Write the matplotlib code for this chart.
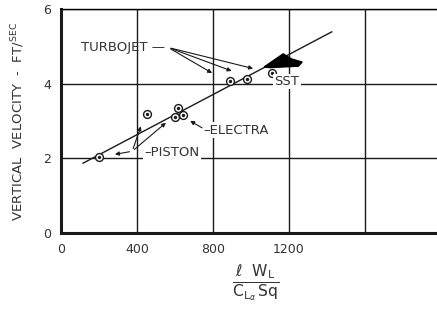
import matplotlib.pyplot as plt

plt.rcParams['mathtext.fontset'] = 'dejavusans'

# trend line and data points
fit_x = [116, 1426]
fit_y = [1.87, 5.39]
piston_x = [200, 453]
piston_y = [2.03, 3.20]
electra_x = [600, 616, 642]
electra_y = [3.12, 3.36, 3.15]
turbo_x = [889, 979]
turbo_y = [4.08, 4.13]
sst_x = [1111]
sst_y = [4.30]
wedge_x = [1070, 1170, 1215, 1270, 1250, 1100]
wedge_y = [4.45, 4.80, 4.66, 4.58, 4.47, 4.43]

xticks = [0, 400, 800, 1200, 1600]
xticklabels = ['0', '400', '800', '1200', '']
yticks = [0, 2, 4, 6]

ink = '#1a1a1a'
txt = '#333333'

fig = plt.figure(figsize=(4.37, 3.24), dpi=100)
ax = fig.add_axes([0.1396, 0.281, 0.8604, 0.691])

ax.set_xlim(0, 1980)
ax.set_ylim(0, 6)
ax.set_xticks(xticks)
ax.set_xticklabels(xticklabels)
ax.set_yticks(yticks)
ax.tick_params(length=0, labelsize=9, labelcolor=txt, pad=7)
ax.grid(True, color=ink, linewidth=1.0)
for s in ['left', 'bottom']:
    ax.spines[s].set_linewidth(2.2)
    ax.spines[s].set_color(ink)
ax.spines['right'].set_visible(False)
ax.spines['top'].set_linewidth(1.0)

ax.plot(fit_x, fit_y, color=ink, linewidth=1.0, zorder=3)
ax.fill(wedge_x, wedge_y, color='black', zorder=3)

allx = piston_x + electra_x + turbo_x + sst_x
ally = piston_y + electra_y + turbo_y + sst_y
ax.scatter(allx, ally, s=32, facecolor='white', edgecolor=ink, linewidth=1.0, zorder=4)
ax.scatter(allx, ally, s=2, color=ink, zorder=5)

box = dict(facecolor='white', edgecolor='none', pad=1)
arr = dict(arrowstyle='-|>', color=ink, lw=0.8, mutation_scale=6, shrinkB=4)

# TURBOJET label and leaders
ax.text(105, 4.96, 'TURBOJET \u2014', fontsize=9.5, color=txt, va='center', zorder=6)
for tx, ty in [(821, 4.21), (926, 4.29), (1040, 4.37)]:
    ax.annotate('', xy=(tx, ty), xytext=(565, 4.97), arrowprops=arr, zorder=6)

# SST label
ax.text(1190, 4.06, 'SST', fontsize=9.5, color=txt, va='center', ha='center', bbox=box, zorder=6)

# ELECTRA label
ax.text(750, 2.75, '\u2013ELECTRA', fontsize=9.5, color=txt, va='center', bbox=box, zorder=6)
ax.annotate('', xy=(655, 3.08), xytext=(755, 2.78), arrowprops=arr, zorder=6)

# PISTON label
ax.text(440, 2.16, '\u2013PISTON', fontsize=9.5, color=txt, va='center', bbox=box, zorder=6)
for tx, ty in [(255, 2.08), (430, 3.0), (575, 3.05)]:
    ax.annotate('', xy=(tx, ty), xytext=(375, 2.19), arrowprops=arr, zorder=6)

ax.set_ylabel(r'VERTICAL  VELOCITY  -  FT/$^{\mathrm{SEC}}$', fontsize=9.5, color=txt, labelpad=12)
fig.text(0.585, 0.125, r'$\frac{\ell\ \ \mathrm{W}_{\mathrm{L}}}{\mathrm{C}_{\mathrm{L}_\alpha}\,\mathrm{Sq}}$',
         fontsize=16, color=txt, ha='center', va='center')

fig.savefig('out.png', dpi=100)
